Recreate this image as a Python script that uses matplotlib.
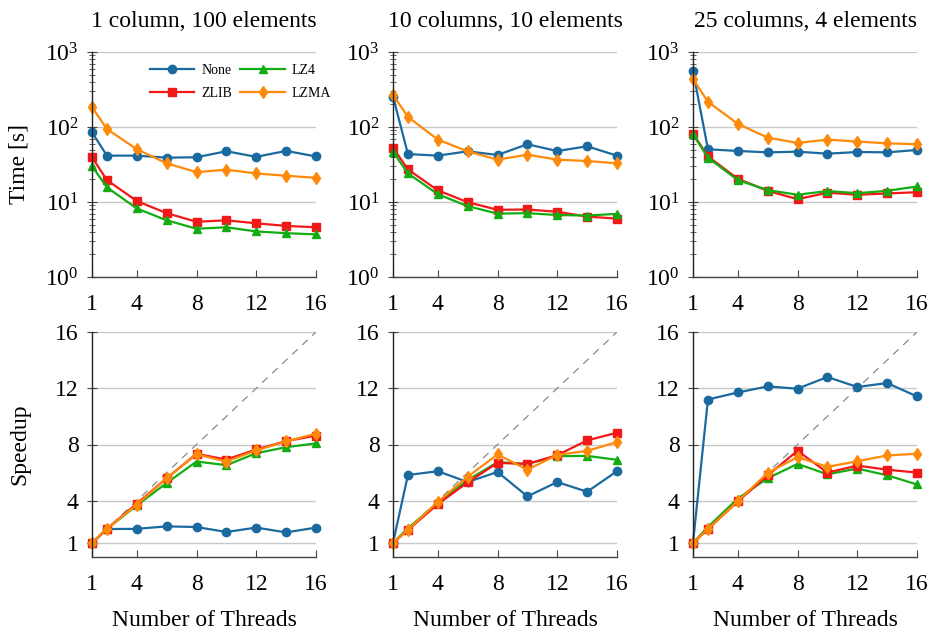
import matplotlib
matplotlib.use("Agg")
import matplotlib.pyplot as plt
from matplotlib.ticker import LogLocator, NullFormatter, FixedLocator

plt.rcParams['font.family'] = ['Liberation Serif', 'DejaVu Serif']
plt.rcParams['mathtext.fontset'] = 'custom'
plt.rcParams['mathtext.rm'] = 'Liberation Serif'
plt.rcParams['mathtext.it'] = 'Liberation Serif:italic'

threads = [1, 2, 4, 6, 8, 10, 12, 14, 16]
titles = ["1 column, 100 elements", "10 columns, 10 elements", "25 columns, 4 elements"]
series_names = ["None", "ZLIB", "LZ4", "LZMA"]

# Time [s]
time_none = [
    [85, 41.5, 41.5, 39, 39.5, 47.5, 40, 48, 40.5],
    [255, 43.6, 41.5, 47.4, 42.4, 58.9, 47.8, 55.3, 41.5],
    [562, 50.5, 47.9, 45.9, 46.9, 44.1, 46.4, 45.9, 49.4],
]
time_zlib = [
    [39.5, 19.6, 10.3, 7.1, 5.45, 5.7, 5.2, 4.8, 4.6],
    [53, 27.2, 14.3, 9.95, 7.87, 7.95, 7.4, 6.4, 6.0],
    [81.6, 40.6, 20.4, 14.1, 10.9, 13.3, 12.5, 13.0, 13.5],
]
time_lz4 = [
    [30, 15.7, 8.2, 5.7, 4.4, 4.6, 4.05, 3.84, 3.7],
    [46.9, 24.1, 12.7, 8.8, 7.0, 7.1, 6.7, 6.6, 6.95],
    [80, 39, 19.6, 14.4, 12.5, 14.0, 13.1, 14.1, 16.1],
]
time_lzma = [
    [184, 94, 50.5, 32.8, 25, 27, 24, 22.4, 21],
    [269, 136, 67.9, 47.4, 36.7, 42.8, 36.7, 35.2, 32.8],
    [435, 217, 110, 72.2, 61.3, 67.9, 63.9, 60.6, 58.9],
]

# Speedup
speed_none = [
    [1, 1.99, 2.0, 2.18, 2.13, 1.78, 2.09, 1.75, 2.09],
    [1, 5.83, 6.1, 5.33, 6.05, 4.31, 5.33, 4.64, 6.1],
    [1, 11.2, 11.7, 12.13, 11.97, 12.8, 12.09, 12.37, 11.42],
]
speed_zlib = [
    [1, 2.0, 3.8, 5.6, 7.34, 6.93, 7.65, 8.24, 8.63],
    [1, 1.92, 3.76, 5.31, 6.69, 6.62, 7.24, 8.29, 8.84],
    [1, 1.99, 3.95, 5.81, 7.55, 6.0, 6.5, 6.21, 6.0],
]
speed_lz4 = [
    [1, 2.0, 3.68, 5.26, 6.79, 6.53, 7.38, 7.81, 8.08],
    [1, 2.04, 3.85, 5.47, 6.74, 6.62, 7.17, 7.19, 6.91],
    [1, 2.13, 4.16, 5.6, 6.62, 5.88, 6.29, 5.81, 5.16],
]
speed_lzma = [
    [1, 2.0, 3.73, 5.6, 7.3, 6.79, 7.58, 8.22, 8.77],
    [1, 1.94, 3.92, 5.71, 7.29, 6.21, 7.26, 7.55, 8.17],
    [1, 1.99, 3.97, 5.98, 7.1, 6.41, 6.81, 7.22, 7.34],
]

xticks = [1, 4, 8, 12, 16]
speed_ticks = [1, 4, 8, 12, 16]

styles = {
    "None": dict(color="#1a6aa0", marker="o", markersize=6),
    "ZLIB": dict(color="#f21818", marker="s", markersize=6),
    "LZ4":  dict(color="#12ad12", marker="^", markersize=6),
    "LZMA": dict(color="#ff8a0a", marker="d", markersize=6),
}

fig = plt.figure(figsize=(9.36, 6.3), dpi=100)
W, H = 936, 630
lefts = [92, 393, 693]
aw = 224
tops = [52, 332]
ah = 225

FS = 17
grid_c = "#c8c8c8"

def style_axes(ax):
    for s in ["top", "right"]:
        ax.spines[s].set_visible(False)
    ax.spines["left"].set_color("#222222")
    ax.spines["bottom"].set_color("#444444")
    ax.spines["left"].set_linewidth(1.0)
    ax.spines["bottom"].set_linewidth(1.0)
    ax.set_xlim(1, 16)
    ax.set_xticks(xticks)
    ax.tick_params(axis="x", direction="in", length=5, color="#444444", labelsize=FS, pad=12)
    ax.tick_params(axis="y", direction="inout", length=7, color="#444444", labelsize=FS, pad=6)
    ax.tick_params(axis="y", which="minor", direction="inout", length=4, color="#444444")
    ax.set_axisbelow(True)

for c in range(3):
    # time
    ax = fig.add_axes([lefts[c] / W, 1 - (tops[0] + ah) / H, aw / W, ah / H])
    style_axes(ax)
    ax.set_yscale("log")
    ax.set_ylim(1, 1000)
    ax.yaxis.set_major_locator(LogLocator(base=10, numticks=10))
    ax.yaxis.set_minor_locator(LogLocator(base=10, subs=range(2, 10), numticks=20))
    ax.yaxis.set_minor_formatter(NullFormatter())
    ax.grid(True, axis="y", which="major", color=grid_c, linewidth=1.0)
    data = {"None": time_none[c], "ZLIB": time_zlib[c], "LZ4": time_lz4[c], "LZMA": time_lzma[c]}
    for name in series_names:
        ax.plot(threads, data[name], label=name, linewidth=1.6, clip_on=False, **styles[name])
    ax.set_title(titles[c], fontsize=FS, pad=18)
    if c == 0:
        ax.set_ylabel("Time [s]", fontsize=FS)
        ax.yaxis.set_label_coords(-0.277, 0.5)
        ax.legend(ncol=2, frameon=False, fontsize=10, loc="upper left",
                  bbox_to_anchor=(143 / W, 1 - 57 / H), bbox_transform=fig.transFigure,
                  borderpad=0, handlelength=3.2, columnspacing=0.6,
                  handletextpad=0.5, labelspacing=0.72)

    # speedup
    ax2 = fig.add_axes([lefts[c] / W, 1 - (tops[1] + ah) / H, aw / W, ah / H])
    style_axes(ax2)
    ax2.set_ylim(0, 16)
    ax2.yaxis.set_major_locator(FixedLocator(speed_ticks))
    ax2.grid(True, axis="y", which="major", color=grid_c, linewidth=1.0)
    ax2.plot([1, 16], [1, 16], linestyle=(0, (6, 5)), color="#8a8a8a", linewidth=0.9)
    sdata = {"None": speed_none[c], "ZLIB": speed_zlib[c], "LZ4": speed_lz4[c], "LZMA": speed_lzma[c]}
    for name in ["None", "LZ4", "ZLIB", "LZMA"]:
        ax2.plot(threads, sdata[name], linewidth=1.6, clip_on=False, **styles[name])
    ax2.set_xlabel("Number of Threads", fontsize=FS, labelpad=11)
    if c == 0:
        ax2.set_ylabel("Speedup", fontsize=FS)
        ax2.yaxis.set_label_coords(-0.277, 0.5)

fig.savefig("out.png", dpi=100)
